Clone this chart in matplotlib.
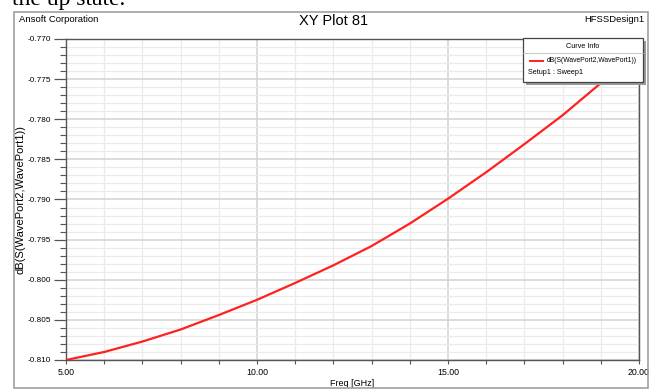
import matplotlib
matplotlib.use("Agg")
import matplotlib.pyplot as plt
from matplotlib.patches import Rectangle
from matplotlib.lines import Line2D
from matplotlib.ticker import MultipleLocator, FixedLocator

freq_ghz = [5, 6, 7, 8, 9, 10, 11, 12, 13, 14, 15, 16, 17, 18, 19, 20]
s21_db = [-0.8100, -0.8090, -0.8077, -0.8062, -0.8044, -0.8025, -0.8004, -0.7982,
          -0.7958, -0.7930, -0.7899, -0.7866, -0.7831, -0.7795, -0.7755, -0.7710]
x_ticks = [5, 10, 15, 20]
x_tick_labels = ["5.00", "10.00", "15.00", "20.00"]
y_ticks = [-0.810, -0.805, -0.800, -0.795, -0.790, -0.785, -0.780, -0.775, -0.770]
y_tick_labels = ["-0.810", "-0.805", "-0.800", "-0.795", "-0.790", "-0.785", "-0.780", "-0.775", "-0.770"]

W, H = 659, 390
plt.rcParams["font.family"] = ["Liberation Sans", "DejaVu Sans"]

fig = plt.figure(figsize=(W / 100, H / 100), dpi=100)
fig.patch.set_facecolor("white")

def fx(px):
    return px / W

def fy(py):
    return 1 - py / H

# outer frame
fig.add_artist(Rectangle((fx(14), fy(388)), fx(648 - 14), (388 - 12) / H,
                         transform=fig.transFigure, fill=False,
                         edgecolor="#a0a0a0", lw=1.2))

# document text cut at the very top (as in the reference screenshot)
fig.text(fx(12), fy(5), "the up state.", family=["Liberation Serif", "DejaVu Serif"],
         fontsize=17, color="black", ha="left", va="baseline")

ax = fig.add_axes([fx(66), fy(360), fx(639 - 66), (360 - 39) / H])
ax.plot(freq_ghz, s21_db, color="#ff2020", lw=1.6, zorder=3, clip_on=True)
ax.set_xlim(5, 20)
ax.set_ylim(-0.810, -0.770)

ax.xaxis.set_major_locator(FixedLocator(x_ticks))
ax.set_xticklabels(x_tick_labels)
ax.xaxis.set_minor_locator(MultipleLocator(1))
ax.yaxis.set_major_locator(FixedLocator(y_ticks))
ax.set_yticklabels(y_tick_labels)
ax.yaxis.set_minor_locator(MultipleLocator(0.001))

ax.grid(which="minor", color="#ebebeb", lw=0.9)
ax.grid(which="major", color="#d2d2d2", lw=1.1)
ax.set_axisbelow(True)

ax.tick_params(which="major", axis="y", direction="out", length=9, width=0.9,
               color="#555555", labelsize=5.9, pad=2)
ax.tick_params(which="minor", axis="y", direction="out", length=4, width=0.8,
               color="#555555")
ax.tick_params(which="major", axis="x", direction="out", length=3, width=0.8,
               color="#555555", labelsize=6.3, pad=3)
ax.tick_params(which="minor", axis="x", direction="out", length=3, width=0.8,
               color="#555555")
for s in ax.spines.values():
    s.set_color("#555555")
    s.set_linewidth(1.0)

ax.set_xlabel("Freq [GHz]", fontsize=6.5, labelpad=1)
ax.set_ylabel("dB(S(WavePort2,WavePort1))", fontsize=8.0)
ax.yaxis.set_label_coords((26 - 66) / 573, 0.5)

# header texts
fig.text(fx(19), fy(19), "Ansoft Corporation", fontsize=6.8, ha="left", va="center")
fig.text(fx(334), fy(21), "XY Plot 81", fontsize=10.5, ha="center", va="center")
fig.text(fx(644), fy(19), "HFSSDesign1", fontsize=6.8, ha="right", va="center")

# legend box (Curve Info)
lx0, lx1, ly0, ly1 = 523, 643, 38, 82
fig.add_artist(Rectangle((fx(lx0 + 3), fy(ly1 + 3)), fx(lx1 - lx0), (ly1 - ly0) / H,
                         transform=fig.transFigure, facecolor="#9a9a9a",
                         edgecolor="none", zorder=9))
fig.add_artist(Rectangle((fx(lx0), fy(ly1)), fx(lx1 - lx0), (ly1 - ly0) / H,
                         transform=fig.transFigure, facecolor="white",
                         edgecolor="#444444", lw=0.9, zorder=10))
fig.text(fx((lx0 + lx1) / 2), fy(46), "Curve Info", fontsize=5.2, ha="center",
         va="center", zorder=11)
fig.add_artist(Line2D([fx(lx0), fx(lx1)], [fy(53), fy(53)], transform=fig.transFigure,
                      color="#bbbbbb", lw=0.6, zorder=11))
fig.add_artist(Line2D([fx(530), fx(543)], [fy(61), fy(61)], transform=fig.transFigure,
                      color="#ff2020", lw=1.4, zorder=11))
fig.text(fx(547), fy(61), "dB(S(WavePort2,WavePort1))", fontsize=4.9, ha="left",
         va="center", zorder=11)
fig.text(fx(528), fy(73), "Setup1 : Sweep1", fontsize=5.2, ha="left", va="center",
         zorder=11)

fig.savefig("out.png", dpi=100)
